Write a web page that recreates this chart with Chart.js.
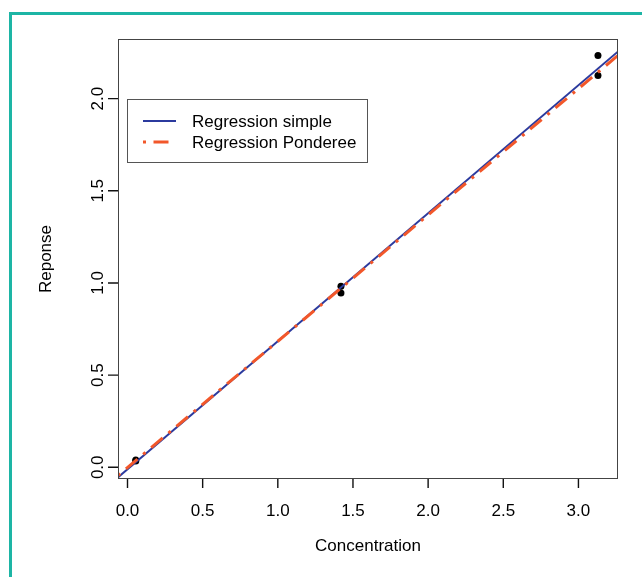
<!DOCTYPE html>
<html>
<head>
<meta charset="utf-8">
<script src="https://cdn.jsdelivr.net/npm/chart.js@4.4.1/dist/chart.umd.min.js"></script>
<style>
  html, body { margin: 0; padding: 0; background: #ffffff; }
  #wrap { position: relative; width: 642px; height: 577px; }
</style>
</head>
<body>
<div id="wrap"><canvas id="c" width="642" height="577"></canvas></div>
<script>
// ---- data ----
const xTicks = [0, 0.5, 1, 1.5, 2, 2.5, 3];
const xTickLabels = ['0.0', '0.5', '1.0', '1.5', '2.0', '2.5', '3.0'];
const yTicks = [0, 0.5, 1, 1.5, 2];
const yTickLabels = ['0.0', '0.5', '1.0', '1.5', '2.0'];

const concentration = [0.055, 0.055, 1.42, 1.42, 3.13, 3.13];
const response      = [0.040, 0.034, 0.982, 0.946, 2.234, 2.125];

const lineX       = [-0.064, 3.264];
const simpleY     = [-0.055, 2.256];
const weightedY   = [-0.045, 2.235];

const seriesNames = ['Regression simple', 'Regression Ponderee'];
const xTitle = 'Concentration';
const yTitle = 'Reponse';
const xRange = [-0.0632, 3.2632];
const yRange = [-0.058, 2.318];
const legendAnchor = [0, 2];

// ---- styles ----
const BLUE = '#2B3A9E';
const ORANGE = '#F2572A';
const TEAL = '#1DB5A5';
const FONT = "'Liberation Sans', Arial, Helvetica, sans-serif";

Chart.defaults.font.family = FONT;
Chart.defaults.font.size = 17;
Chart.defaults.color = '#000';

const toPts = (xs, ys) => xs.map((x, i) => ({ x: x, y: ys[i] }));

function drawTickMarks(chart) {
  const ctx = chart.ctx;
  const a = chart.chartArea;
  const xs = chart.scales.x, ys = chart.scales.y;
  ctx.save();
  ctx.strokeStyle = '#111111';
  ctx.lineWidth = 1.4;
  ctx.lineCap = 'butt';
  ctx.setLineDash([]);
  ctx.beginPath();
  for (let i = 0; i < xTicks.length; i++) {
    const px = xs.getPixelForValue(xTicks[i]);
    ctx.moveTo(px, a.bottom);
    ctx.lineTo(px, a.bottom + 10);
  }
  for (let i = 0; i < yTicks.length; i++) {
    const py = ys.getPixelForValue(yTicks[i]);
    ctx.moveTo(a.left, py);
    ctx.lineTo(a.left - 10, py);
  }
  ctx.stroke();
  ctx.restore();
}

const framePlugin = {
  id: 'frame',
  beforeDraw(chart) {
    const ctx = chart.ctx;
    ctx.save();
    ctx.fillStyle = '#ffffff';
    ctx.fillRect(0, 0, chart.width, chart.height);
    ctx.fillStyle = TEAL;
    ctx.fillRect(9, 12, chart.width - 9, 3);
    ctx.fillRect(9, 12, 3, chart.height - 12);
    ctx.restore();
  },
  afterDraw(chart) {
    const ctx = chart.ctx;
    const a = chart.chartArea;
    const xs = chart.scales.x, ys = chart.scales.y;
    drawTickMarks(chart);
    ctx.save();
    // plot box
    ctx.strokeStyle = '#444';
    ctx.lineWidth = 1;
    ctx.strokeRect(Math.round(a.left) + 0.5, Math.round(a.top) - 0.5,
                   Math.round(a.right - a.left) - 1, Math.round(a.bottom - a.top) + 1);
    // legend
    const lx = Math.round(xs.getPixelForValue(legendAnchor[0]));
    const ly = Math.round(ys.getPixelForValue(legendAnchor[1]));
    const w = 240, h = 63;
    ctx.strokeStyle = '#555';
    ctx.strokeRect(lx + 0.5, ly + 0.5, w, h);
    ctx.font = '17px ' + FONT;
    ctx.textBaseline = 'middle';
    ctx.textAlign = 'left';
    ctx.fillStyle = '#000';
    const items = chart.data.datasets.filter(d => d.legendRow !== undefined)
      .sort((p, q) => p.legendRow - q.legendRow);
    items.forEach((d, i) => {
      const y = ly + 22 + i * 21;
      ctx.save();
      ctx.strokeStyle = d.borderColor;
      ctx.lineWidth = d.borderWidth;
      ctx.setLineDash(d.borderDash || []);
      ctx.lineCap = 'butt';
      ctx.beginPath();
      ctx.moveTo(lx + 16, y);
      ctx.lineTo(lx + 49, y);
      ctx.stroke();
      ctx.restore();
      ctx.fillText(d.label, lx + 65, y + 1);
    });
    ctx.restore();
  }
};

new Chart(document.getElementById('c'), {
  type: 'scatter',
  data: {
    datasets: [
      {
        type: 'line',
        label: seriesNames[1],
        legendRow: 1,
        data: toPts(lineX, weightedY),
        borderColor: ORANGE,
        borderWidth: 3,
        borderDash: [3, 7.5, 15, 7.5],
        borderCapStyle: 'butt',
        pointRadius: 0,
        fill: false,
        order: 0
      },
      {
        type: 'line',
        label: seriesNames[0],
        legendRow: 0,
        data: toPts(lineX, simpleY),
        borderColor: BLUE,
        borderWidth: 2,
        pointRadius: 0,
        fill: false,
        order: 1
      },
      {
        label: 'points',
        data: toPts(concentration, response),
        pointRadius: 3.5,
        pointBackgroundColor: '#000',
        pointBorderWidth: 0,
        borderColor: '#000',
        order: 2
      }
    ]
  },
  options: {
    responsive: false,
    animation: false,
    devicePixelRatio: 1,
    layout: { padding: { left: 0, top: 40, right: 24, bottom: 0 } },
    plugins: { legend: { display: false }, tooltip: { enabled: false } },
    scales: {
      x: {
        type: 'linear',
        position: 'bottom',
        min: xRange[0],
        max: xRange[1],
        afterBuildTicks: s => { s.ticks = xTicks.map(v => ({ value: v })); },
        afterFit: s => { s.height = 99; },
        grid: { display: false, drawOnChartArea: false, drawTicks: true, tickLength: 10 },
        border: { display: false },
        ticks: {
          padding: 13,
          maxRotation: 0,
          minRotation: 0,
          autoSkip: false,
          callback: v => xTickLabels[xTicks.indexOf(v)]
        },
        title: { display: true, text: xTitle, padding: { top: 0, bottom: 20 } }
      },
      y: {
        type: 'linear',
        position: 'left',
        min: yRange[0],
        max: yRange[1],
        afterBuildTicks: s => { s.ticks = yTicks.map(v => ({ value: v })); },
        afterFit: s => { s.width = 118; },
        grid: { display: false, drawOnChartArea: false, drawTicks: true, tickLength: 10 },
        border: { display: false },
        ticks: {
          padding: -2,
          minRotation: 90,
          maxRotation: 90,
          crossAlign: 'center',
          autoSkip: false,
          callback: v => yTickLabels[yTicks.indexOf(v)]
        },
        title: { display: true, text: yTitle, padding: { top: 36, bottom: 0 } }
      }
    }
  },
  plugins: [framePlugin]
});
</script>
</body>
</html>
